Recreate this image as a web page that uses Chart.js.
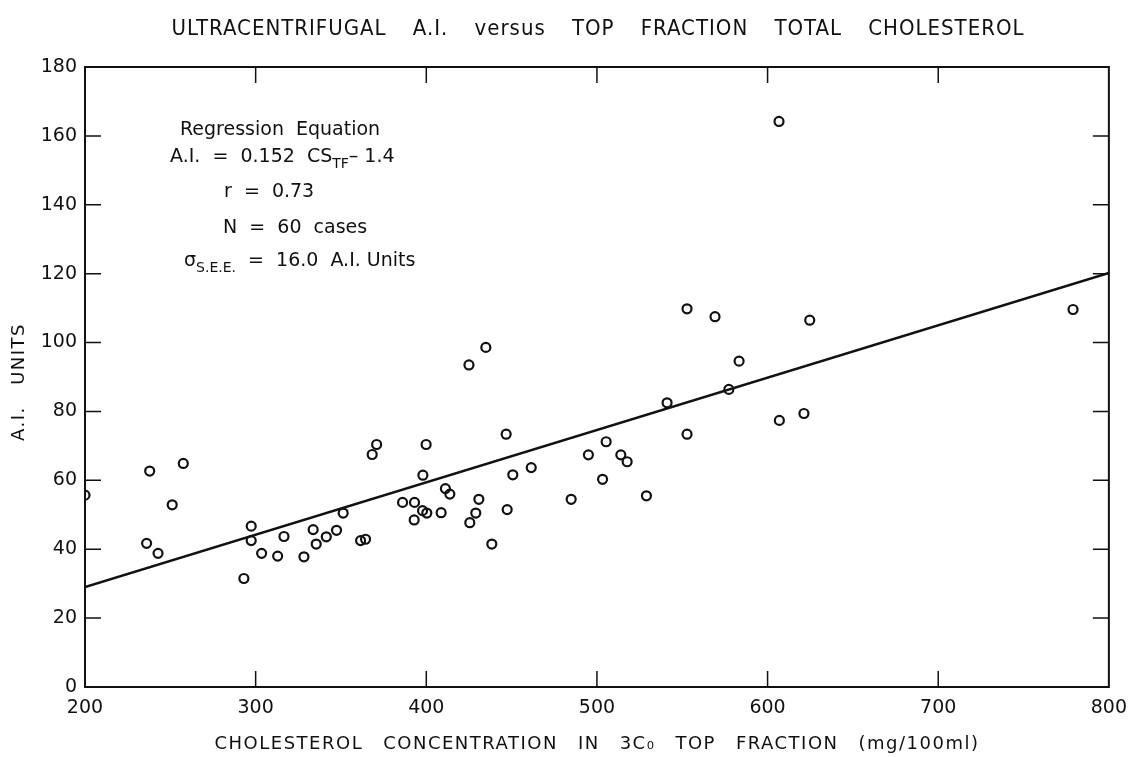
<!DOCTYPE html>
<html>
<head>
<meta charset="utf-8">
<title>Ultracentrifugal A.I. versus Top Fraction Total Cholesterol</title>
<script src="https://cdn.jsdelivr.net/npm/chart.js@4/dist/chart.umd.min.js"></script>
<style>
  html, body { margin: 0; padding: 0; background: #fff; }
  #wrap { position: relative; width: 1137px; height: 757px; }
</style>
</head>
<body>
<div id="wrap"><canvas id="chart"></canvas></div>
<script>
/* scatter of A.I. units vs top-fraction cholesterol, with the fitted line */

// --- data ---
var cholTF = [
  200, 237.9, 257.6, 251.1, 236.1, 242.8, 293.1, 297.4, 297.4, 303.5,
  312.9, 316.6, 328.3, 333.7, 335.5, 341.4, 347.4, 351.3, 361.5, 364.4,
  368.3, 370.9, 386.1, 393.1, 392.9, 397.8, 400.3, 398.0, 399.9, 408.7,
  411.2, 413.8, 425.0, 434.9, 425.5, 429.0, 430.8, 438.4, 446.8, 447.4,
  450.7, 461.5, 484.9, 495.0, 503.3, 505.4, 514.0, 517.7, 529.0, 541.1,
  552.8, 552.8, 569.2, 577.3, 583.3, 606.7, 606.9, 621.3, 624.7, 779.0
];
var aiUnits = [
  55.7, 62.7, 64.9, 52.9, 41.7, 38.8, 31.5, 46.7, 42.5, 38.8,
  38.0, 43.7, 37.8, 45.7, 41.5, 43.6, 45.5, 50.5, 42.5, 42.9,
  67.5, 70.4, 53.6, 53.6, 48.5, 51.2, 50.5, 61.5, 70.4, 50.6,
  57.6, 56.0, 93.5, 98.6, 47.7, 50.5, 54.5, 41.5, 73.4, 51.5,
  61.6, 63.7, 54.5, 67.4, 60.3, 71.2, 67.4, 65.4, 55.5, 82.5,
  109.8, 73.4, 107.5, 86.4, 94.6, 164.2, 77.4, 79.4, 106.5, 109.6
];
// regression line end points as drawn (x = 200 and x = 800)
var fitX = [200, 800];
var fitY = [29.0, 120.2];

var xTicks = [200, 300, 400, 500, 600, 700, 800];
var yTicks = [0, 20, 40, 60, 80, 100, 120, 140, 160, 180];

var TITLE = 'ULTRACENTRIFUGAL A.I. versus TOP FRACTION TOTAL CHOLESTEROL';
var X_TITLE = 'CHOLESTEROL CONCENTRATION IN 3C\u2080 TOP FRACTION (mg/100ml)';
var Y_TITLE = 'A.I. UNITS';

var INK = '#111';
var FONT = '"DejaVu Sans", "Liberation Sans", sans-serif';
var NARROW = '"DejaVu Sans Condensed", "Liberation Sans Narrow", sans-serif';

function pairs(xs, ys) {
  return xs.map(function (x, i) { return { x: x, y: ys[i] }; });
}

// ---------------------------------------------------------------------
// drawing helpers for the frame, inward tick marks and the text block
// ---------------------------------------------------------------------

// centred, letter-spaced text whose word gaps are widened to fill a width
function spreadText(ctx, text, cx, cy, width, letter) {
  ctx.letterSpacing = (letter || 0) + 'px';
  ctx.wordSpacing = '0px';
  var w = ctx.measureText(text).width;
  var gaps = (text.match(/ /g) || []).length;
  var extra = gaps ? Math.max(0, (width - w) / gaps) : 0;
  ctx.wordSpacing = extra.toFixed(2) + 'px';
  var w2 = ctx.measureText(text).width;
  ctx.textAlign = 'left';
  ctx.fillText(text, cx - w2 / 2, cy);
  ctx.wordSpacing = '0px';
  ctx.letterSpacing = '0px';
}

// text with optional subscript pieces: parts = [[text, isSub], ...]
function drawRich(ctx, parts, x, y, size) {
  var cx = x;
  parts.forEach(function (p) {
    var sub = p[1];
    ctx.font = (sub ? Math.round(size * 0.72) : size) + 'px ' + FONT;
    ctx.fillText(p[0], cx, sub ? y + size * 0.38 : y);
    cx += ctx.measureText(p[0]).width;
  });
}

var framePlugin = {
  id: 'frame',
  afterDraw: function (chart) {
    var ctx = chart.ctx, a = chart.chartArea;
    var xs = chart.scales.x, ys = chart.scales.y;
    var tl = 16;
    ctx.save();
    ctx.strokeStyle = INK;
    ctx.lineWidth = 2;
    ctx.strokeRect(a.left, a.top, a.right - a.left, a.bottom - a.top);

    ctx.lineWidth = 1.5;
    ctx.beginPath();
    xTicks.slice(1, -1).forEach(function (v) {
      var px = xs.getPixelForValue(v);
      ctx.moveTo(px, a.bottom); ctx.lineTo(px, a.bottom - tl);
      ctx.moveTo(px, a.top); ctx.lineTo(px, a.top + tl);
    });
    yTicks.slice(1, -1).forEach(function (v) {
      var py = ys.getPixelForValue(v);
      ctx.moveTo(a.left, py); ctx.lineTo(a.left + tl, py);
      ctx.moveTo(a.right, py); ctx.lineTo(a.right - tl, py);
    });
    ctx.stroke();

    ctx.fillStyle = INK;
    ctx.textBaseline = 'middle';

    // figure title
    ctx.font = '22px ' + NARROW;
    spreadText(ctx, TITLE, 598, 29, 853, 1);

    // axis titles
    ctx.font = '18px ' + FONT;
    spreadText(ctx, X_TITLE, 597, 744, 765, 1.5);
    ctx.save();
    ctx.translate(19, 382);
    ctx.rotate(-Math.PI / 2);
    spreadText(ctx, Y_TITLE, 0, 0, 118, 1.5);
    ctx.restore();

    // regression summary
    ctx.textAlign = 'left';
    var s = 19;
    drawRich(ctx, [['Regression  Equation', false]], 180, 130, s);
    drawRich(ctx, [['A.I.  =  0.152  CS', false], ['TF', true], ['\u2013 1.4', false]], 170, 157, s);
    drawRich(ctx, [['r  =  0.73', false]], 224, 192, s);
    drawRich(ctx, [['N  =  60  cases', false]], 223, 228, s);
    drawRich(ctx, [['\u03c3', false], ['S.E.E.', true], ['  =  16.0  A.I. Units', false]], 184, 261, s);
    ctx.restore();
  }
};

// ---------------------------------------------------------------------
// chart
// ---------------------------------------------------------------------

new Chart(document.getElementById('chart'), {
  type: 'scatter',
  data: {
    datasets: [
      {
        label: 'cases',
        data: pairs(cholTF, aiUnits),
        pointStyle: 'circle',
        pointRadius: 4.5,
        pointBorderWidth: 2.2,
        pointBackgroundColor: 'rgba(255,255,255,0)',
        pointBorderColor: INK
      },
      {
        type: 'line',
        label: 'regression',
        data: pairs(fitX, fitY),
        borderColor: INK,
        borderWidth: 2.4,
        pointRadius: 0,
        fill: false
      }
    ]
  },
  plugins: [framePlugin],
  options: {
    responsive: true,
    maintainAspectRatio: false,
    animation: false,
    layout: { padding: { top: 67, right: 28, left: 0, bottom: 0 } },
    plugins: { legend: { display: false }, tooltip: { enabled: false }, title: { display: false } },
    scales: {
      x: {
        type: 'linear', min: 200, max: 800,
        afterBuildTicks: function (sc) { sc.ticks = xTicks.map(function (v) { return { value: v }; }); },
        afterFit: function (sc) { sc.height = 70; },
        grid: { display: false, drawTicks: false },
        border: { display: false },
        ticks: { color: INK, padding: 10, maxRotation: 0, font: { family: FONT, size: 19 } },
        title: { display: false }
      },
      y: {
        type: 'linear', min: 0, max: 180,
        afterBuildTicks: function (sc) { sc.ticks = yTicks.map(function (v) { return { value: v }; }); },
        afterFit: function (sc) { sc.width = 85; },
        grid: { display: false, drawTicks: false },
        border: { display: false },
        ticks: { color: INK, padding: 8, font: { family: FONT, size: 19 } },
        title: { display: false }
      }
    }
  }
});
</script>
</body>
</html>
